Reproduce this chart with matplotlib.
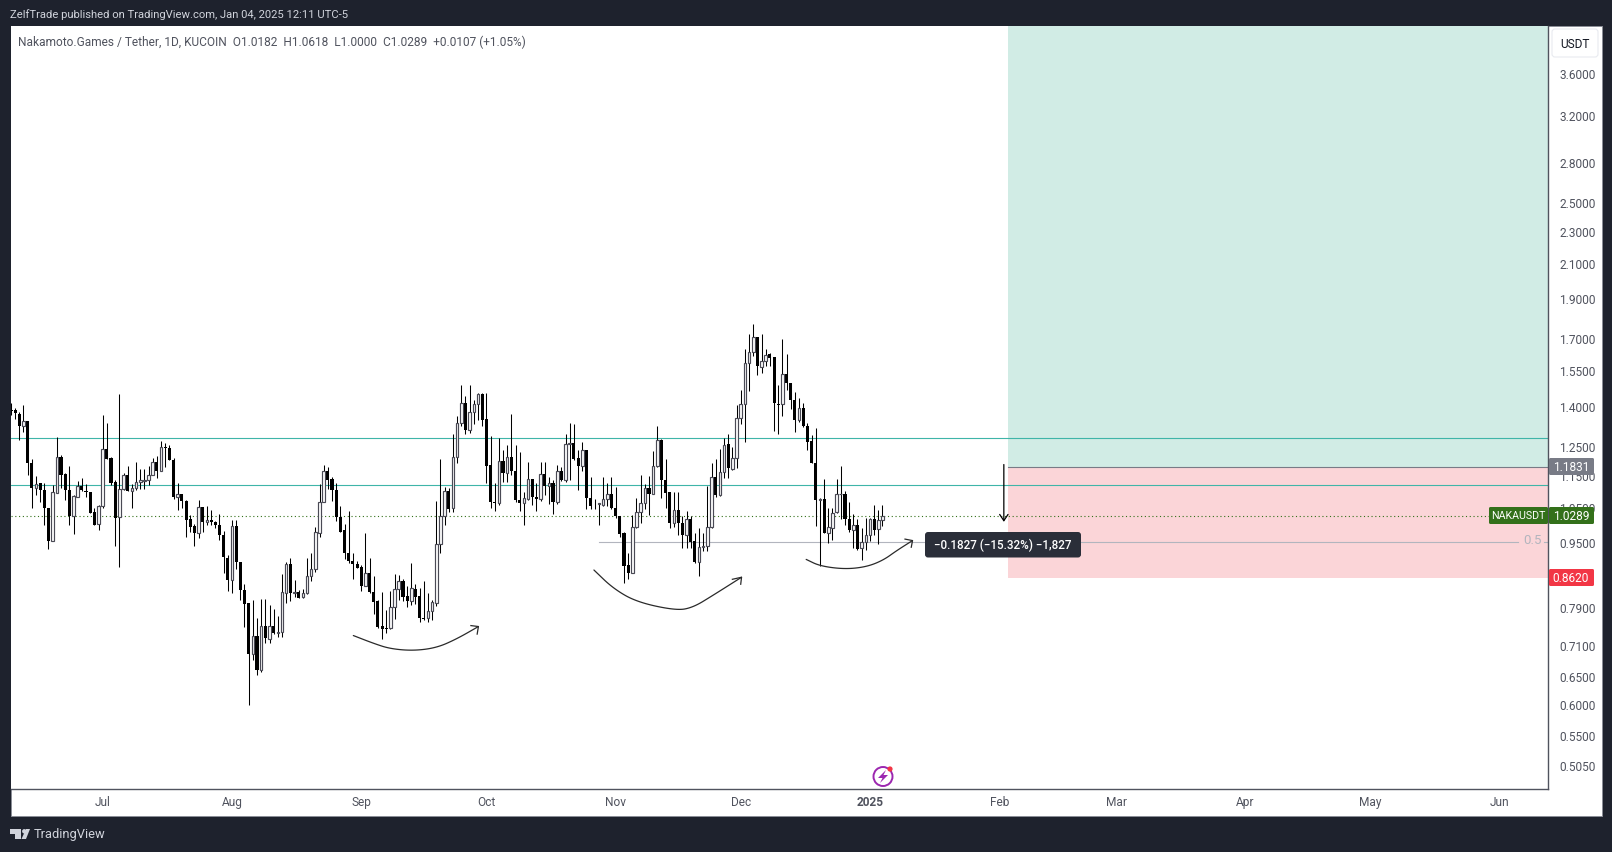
#!/usr/bin/env python3
"""NAKA/USDT daily candles with a short position drawing, TradingView style."""

import numpy as np
import matplotlib
matplotlib.use('Agg')
import matplotlib.pyplot as plt
from matplotlib.patches import Rectangle, FancyBboxPatch, Circle, Polygon
from matplotlib.transforms import Affine2D, ScaledTranslation

W, H = 1612, 853

plt.rcParams['font.family'] = ['Roboto', 'DejaVu Sans']

# days counted from Jul 1 2024
first_day = -22

opens = [
    1.393, 1.392, 1.377, 1.328, 1.349, 1.197, 1.115, 1.131, 1.108, 1.054,
    .960, 1.100, 1.217, 1.161, 1.108, 1.029, 1.088, 1.122, 1.106, 1.102,
    1.041, 1.005, 1.059, 1.245, 1.215, 1.134, 1.026, 1.111, 1.156, 1.104,
    1.115, 1.133, 1.138, 1.139, 1.156, 1.200, 1.169, 1.254, 1.250, 1.207,
    1.085, 1.095, 1.074, 1.020, 1.001, .981, 1.056, 1.013, 1.017, 1.013,
    1.003, .975, .914, .859, 1.000, .903, .835, .803, .696, .733,
    .665, .754, .726, .754, .739, .740, .828, .898, .827, .829,
    .818, .826, .868, .885, .982, 1.071, 1.170, 1.144, 1.108, 1.026,
    .988, .926, .905, .897, .890, .844, .875, .830, .808, .753,
    .749, .749, .794, .836, .857, .821, .809, .837, .819, .771,
    .771, .787, .805, .950, 1.029, 1.106, 1.052, 1.216, 1.341, 1.419,
    1.313, 1.384, 1.416, 1.454, 1.357, 1.189, 1.071, 1.068, 1.204, 1.162,
    1.217, 1.170, 1.077, 1.067, 1.081, 1.143, 1.087, 1.079, 1.160, 1.122,
    1.130, 1.070, 1.170, 1.139, 1.264, 1.267, 1.213, 1.185, 1.242, 1.083,
    1.066, 1.064, 1.061, 1.080, 1.095, 1.053, 1.029, .980, .895, .876,
    .997, 1.040, 1.068, 1.114, 1.097, 1.185, 1.279, 1.140, 1.101, 1.010,
    1.047, 1.009, .976, 1.020, .958, .904, .942, .944, .997, 1.150,
    1.093, 1.165, 1.263, 1.177, 1.214, 1.360, 1.415, 1.590, 1.641, 1.713,
    1.573, 1.600, 1.629, 1.615, 1.416, 1.415, 1.541, 1.503, 1.433, 1.352,
    1.399, 1.329, 1.273, 1.196, 1.076, 1.080, .982, .996, 1.040, 1.095,
    1.097, 1.020, .989, 1.003, .939, .956, .974, 1.020, .991, 1.0182,
]
highs = [
    1.420, 1.399, 1.384, 1.412, 1.349, 1.210, 1.154, 1.131, 1.131, 1.054,
    1.125, 1.289, 1.224, 1.163, 1.187, 1.092, 1.137, 1.147, 1.127, 1.102,
    1.053, 1.062, 1.372, 1.341, 1.217, 1.140, 1.457, 1.163, 1.187, 1.127,
    1.200, 1.176, 1.176, 1.185, 1.215, 1.221, 1.274, 1.266, 1.259, 1.214,
    1.131, 1.095, 1.076, 1.031, 1.007, 1.077, 1.056, 1.059, 1.046, 1.014,
    1.035, .986, .921, 1.017, 1.017, .903, .848, .803, .812, .771,
    .814, .814, .800, .790, .775, .873, .903, .913, .859, .834,
    .837, .913, .926, .997, 1.127, 1.190, 1.182, 1.150, 1.130, 1.060,
    1.006, 1.044, .926, .905, .895, .980, .913, .867, .811, .829,
    .788, .831, .872, .870, .861, .843, .900, .849, .838, .857,
    .826, .811, 1.075, 1.210, 1.117, 1.114, 1.301, 1.369, 1.492, 1.449,
    1.492, 1.433, 1.458, 1.458, 1.461, 1.293, 1.130, 1.283, 1.243, 1.258,
    1.376, 1.258, 1.235, 1.102, 1.200, 1.143, 1.130, 1.200, 1.200, 1.150,
    1.141, 1.190, 1.183, 1.299, 1.341, 1.337, 1.243, 1.272, 1.242, 1.150,
    1.081, 1.069, 1.150, 1.130, 1.150, 1.118, 1.030, .983, .926, 1.032,
    1.083, 1.156, 1.128, 1.153, 1.239, 1.331, 1.281, 1.210, 1.101, 1.101,
    1.101, 1.028, 1.043, 1.028, .980, .994, .980, 1.122, 1.196, 1.210,
    1.245, 1.283, 1.299, 1.251, 1.409, 1.474, 1.656, 1.724, 1.774, 1.713,
    1.724, 1.655, 1.637, 1.616, 1.492, 1.703, 1.629, 1.503, 1.464, 1.441,
    1.419, 1.341, 1.296, 1.322, 1.083, 1.144, 1.054, 1.053, 1.144, 1.187,
    1.106, 1.071, 1.034, 1.020, .994, 1.023, 1.023, 1.061, 1.048, 1.0618,
]
lows = [
    1.371, 1.357, 1.277, 1.306, 1.155, 1.052, 1.094, 1.072, 1.002, .936,
    .958, 1.099, 1.116, 1.076, 1.002, .979, 1.085, 1.104, 1.085, 1.037,
    1.002, .990, 1.052, 1.212, 1.123, .944, .891, 1.109, 1.104, 1.052,
    1.107, 1.113, 1.113, 1.123, 1.156, 1.146, 1.169, 1.182, 1.206, 1.079,
    1.046, 1.052, .971, .985, .944, .968, .985, 1.002, 1.002, .996,
    .962, .876, .832, .828, .885, .812, .751, .602, .684, .655,
    .660, .717, .718, .736, .731, .731, .805, .809, .818, .815,
    .816, .824, .856, .879, .971, 1.070, 1.111, 1.073, 1.016, .984,
    .912, .902, .861, .888, .833, .843, .827, .779, .748, .726,
    .738, .747, .769, .812, .808, .795, .799, .801, .762, .766,
    .762, .766, .797, .927, 1.004, 1.040, 1.042, 1.195, 1.330, 1.301,
    1.303, 1.337, 1.354, 1.329, 1.130, 1.052, 1.043, 1.063, 1.135, 1.135,
    1.157, 1.070, 1.043, 1.002, 1.078, 1.063, 1.043, 1.073, 1.093, 1.065,
    1.036, 1.065, 1.136, 1.135, 1.141, 1.208, 1.109, 1.171, 1.050, 1.050,
    1.051, 1.004, 1.058, 1.060, 1.050, 1.023, .971, .850, .861, .875,
    .995, 1.010, 1.049, 1.033, 1.095, 1.183, 1.082, 1.054, .996, .999,
    .974, .941, .941, .941, .900, .867, .933, .933, .995, 1.085,
    1.091, 1.147, 1.147, 1.174, 1.180, 1.335, 1.269, 1.467, 1.621, 1.535,
    1.546, 1.575, 1.575, 1.312, 1.300, 1.367, 1.474, 1.397, 1.305, 1.344,
    1.326, 1.243, 1.196, 1.001, .893, .980, .953, .962, 1.038, 1.020,
    1.004, .984, .939, .935, .908, .935, .958, .975, .951, 1.0000,
]
closes = [
    1.386, 1.378, 1.328, 1.349, 1.196, 1.114, 1.128, 1.107, 1.052, .960,
    1.102, 1.217, 1.158, 1.107, 1.030, 1.089, 1.122, 1.107, 1.103, 1.037,
    1.002, 1.059, 1.245, 1.212, 1.131, 1.025, 1.111, 1.156, 1.104, 1.115,
    1.134, 1.140, 1.141, 1.156, 1.200, 1.169, 1.252, 1.250, 1.206, 1.085,
    1.095, 1.073, 1.019, .999, .981, 1.056, 1.013, 1.017, 1.013, 1.002,
    .974, .915, .859, 1.000, .904, .834, .802, .696, .733, .664,
    .754, .727, .754, .738, .741, .829, .898, .828, .829, .816,
    .826, .868, .885, .983, 1.071, 1.170, 1.141, 1.107, 1.026, .985,
    .928, .905, .897, .889, .844, .875, .829, .807, .752, .746,
    .746, .794, .836, .856, .818, .809, .838, .818, .770, .769,
    .787, .806, .951, 1.029, 1.106, 1.051, 1.217, 1.342, 1.419, 1.313,
    1.384, 1.416, 1.455, 1.354, 1.188, 1.070, 1.069, 1.204, 1.162, 1.217,
    1.169, 1.076, 1.067, 1.083, 1.143, 1.085, 1.079, 1.160, 1.122, 1.130,
    1.070, 1.170, 1.139, 1.264, 1.268, 1.210, 1.185, 1.242, 1.082, 1.060,
    1.064, 1.067, 1.080, 1.095, 1.052, 1.029, .979, .894, .876, .997,
    1.040, 1.068, 1.114, 1.097, 1.186, 1.278, 1.139, 1.100, 1.010, 1.047,
    1.008, .976, 1.020, .957, .904, .942, .945, .997, 1.150, 1.093,
    1.166, 1.259, 1.179, 1.214, 1.360, 1.415, 1.591, 1.641, 1.713, 1.575,
    1.600, 1.627, 1.612, 1.418, 1.413, 1.541, 1.501, 1.433, 1.352, 1.399,
    1.329, 1.272, 1.196, 1.076, 1.080, .982, .997, 1.038, 1.095, 1.097,
    1.020, .989, 1.003, .937, .956, .975, 1.020, .989, 1.018, 1.0289,
]

month_days = [0, 31, 62, 92, 123, 153, 184, 215, 243, 274, 304, 335]
month_labels = ['Jul', 'Aug', 'Sep', 'Oct', 'Nov', 'Dec', '2025', 'Feb', 'Mar', 'Apr', 'May', 'Jun']
price_ticks = [3.6, 3.2, 2.8, 2.5, 2.3, 2.1, 1.9, 1.7, 1.55, 1.4, 1.25, 1.15, 1.05,
               0.95, 0.79, 0.71, 0.65, 0.6, 0.55, 0.505]

level_upper = 1.285
level_lower = 1.124
last_price = 1.0289
mid_level = 0.955
mid_start_day = 119
entry_price = 1.1831
stop_price = 0.8620
target_price = 4.5
box_start_day = 217.1
drop_day = 216.1
drop_top = 1.1915
drop_bottom = 1.0125

# hand drawn swoosh arrows (day, price)
swoosh1_days = [60.1, 64.9, 68.9, 74.5, 80.1, 84.9, 90.1]
swoosh1_prices = [.733, .717, .706, .702, .708, .726, .752]
swoosh1_head_days = [88.3, 90.1, 89.8]
swoosh1_head_prices = [.754, .752, .736]
swoosh2_days = [117.8, 122.4, 128.1, 137.6, 141.6, 146.4, 153.2]
swoosh2_prices = [.883, .838, .806, .787, .794, .822, .865]
swoosh2_head_days = [151.0, 153.2, 153.0]
swoosh2_head_prices = [.860, .865, .848]
swoosh3_days = [168.7, 172.0, 178.0, 183.2, 187.2, 190.4, 194.2]
swoosh3_prices = [.910, .893, .885, .891, .908, .933, .960]
swoosh3_head_days = [192.4, 194.2, 193.9]
swoosh3_head_prices = [.964, .960, .942]

# colours
BG = '#1e222d'
AXIS = '#50535e'
UP_EDGE = '#4a4a55'
TEXT_DARK = '#50535e'
TEAL = '#3fb5a8'
GREEN = '#33701a'

fig = plt.figure(figsize=(W / 100, H / 100), dpi=100, facecolor=BG)

# pixel space with the origin at the top left, only for the page furniture
px = Affine2D().scale(1 / W, -1 / H).translate(0, 1) + fig.transFigure

fig.patches.append(Rectangle((10.5, 27), 1591.5, 790.5, transform=px, facecolor='white',
                             edgecolor='#8a8d96', linewidth=0.7, zorder=-1))

left, right, top, bottom = 10.5, 1548, 27, 790
ax = fig.add_axes([left / W, 1 - bottom / H, (right - left) / W, (bottom - top) / H])
ax.set_yscale('log')
ax.set_xlim((left - 102.7) / 4.17, (right - 102.7) / 4.17)
ax.set_ylim(0.4740, 4.141)
ax.set_facecolor('white')
ax.minorticks_off()

for side in ['top', 'left']:
    ax.spines[side].set_visible(False)
for side in ['right', 'bottom']:
    ax.spines[side].set_color(AXIS)
    ax.spines[side].set_linewidth(1.0)

ax.yaxis.tick_right()
ax.set_yticks(price_ticks)
ax.set_yticklabels(['%.4f' % p for p in price_ticks])
ax.yaxis.set_minor_locator(matplotlib.ticker.NullLocator())
ax.tick_params(axis='y', length=0, pad=8, labelsize=8.6, labelcolor=TEXT_DARK)
# the price labels sit a touch high against their levels on the original
for lab in ax.get_yticklabels():
    lab.set_transform(lab.get_transform() + ScaledTranslation(0, 1.8 / 100, fig.dpi_scale_trans))
ax.set_xticks(month_days)
ax.set_xticklabels(month_labels)
ax.tick_params(axis='x', length=0, pad=4, labelsize=8.6, labelcolor=TEXT_DARK)
ax.get_xticklabels()[6].set_fontweight('bold')

# position box
ax.add_patch(Rectangle((box_start_day, entry_price), 400, target_price - entry_price,
                       facecolor='#d1ece5', edgecolor='none', zorder=1))
ax.add_patch(Rectangle((box_start_day, stop_price), 400, entry_price - stop_price,
                       facecolor='#fbd5d8', edgecolor='none', zorder=1))
ax.plot([box_start_day, 400], [entry_price, entry_price], color='#787b86', lw=0.8, zorder=1.5)

# levels
ax.axhline(level_upper, color=TEAL, lw=0.8, zorder=2)
ax.axhline(level_lower, color=TEAL, lw=0.8, zorder=2)
ax.plot([ax.get_xlim()[0], (1489 - 102.7) / 4.17], [last_price, last_price], color=GREEN,
        lw=0.8, ls=(0, (1, 2.4)), zorder=2)
ax.plot([mid_start_day, (1518 - 102.7) / 4.17], [mid_level, mid_level], color='#b2b5be', lw=0.8, zorder=2)
ax.plot([(1544 - 102.7) / 4.17, 400], [mid_level, mid_level], color='#b2b5be', lw=0.8, zorder=2)
ax.text(1532, 541, '0.5', transform=px, color='#b2b5be', fontsize=9.5, ha='center', va='center')

# candles
days = first_day + np.arange(len(opens))
opens = np.array(opens)
closes = np.array(closes)
up = closes >= opens
ax.vlines(days, lows, highs, color='black', lw=0.75, zorder=3)
ax.bar(days[~up], (opens - closes)[~up], bottom=closes[~up], width=0.75, color='black', zorder=4)
ax.bar(days[up], np.maximum((closes - opens)[up], 0.001), bottom=opens[up], width=0.62,
       facecolor='white', edgecolor=UP_EDGE, linewidth=0.85, zorder=4)


def draw_swoosh(sw_days, sw_prices, head_days, head_prices):
    # corner cutting on the picked points so the stroke looks drawn, not polygonal
    pts = np.column_stack([sw_days, np.log(sw_prices)])
    for _ in range(4):
        q = 0.75 * pts[:-1] + 0.25 * pts[1:]
        r = 0.25 * pts[:-1] + 0.75 * pts[1:]
        mid = np.empty((2 * len(q), 2))
        mid[0::2] = q
        mid[1::2] = r
        pts = np.vstack([pts[:1], mid, pts[-1:]])
    ax.plot(pts[:, 0], np.exp(pts[:, 1]), color='#2a2a2a', lw=0.9, zorder=5, solid_capstyle='round')
    ax.plot(head_days, head_prices, color='#2a2a2a', lw=0.9, zorder=5)


draw_swoosh(swoosh1_days, swoosh1_prices, swoosh1_head_days, swoosh1_head_prices)
draw_swoosh(swoosh2_days, swoosh2_prices, swoosh2_head_days, swoosh2_head_prices)
draw_swoosh(swoosh3_days, swoosh3_prices, swoosh3_head_days, swoosh3_head_prices)

# measure arrow
ax.annotate('', xy=(drop_day, drop_bottom), xytext=(drop_day, drop_top), zorder=6,
            arrowprops=dict(arrowstyle='->,head_length=0.45,head_width=0.3', color='black', lw=0.9,
                            shrinkA=0, shrinkB=0))


def tag(x0, y0, x1, y1, colour, label, cx, size=8.6):
    ax.add_patch(FancyBboxPatch((x0 + 1, y0 + 1), x1 - x0 - 2, y1 - y0 - 2, boxstyle='round,pad=1,rounding_size=1.5',
                                transform=px, facecolor=colour, edgecolor='none',
                                clip_on=False, zorder=10))
    ax.text(cx, (y0 + y1) / 2, label, transform=px, color='white', fontsize=size, ha='center', va='center',
            zorder=11, clip_on=False)


tag(1549, 459, 1594, 476, '#787b86', '%.4f' % entry_price, 1571)
tag(1489, 508, 1548, 525, GREEN, 'NAKAUSDT', 1518, size=7.7)
tag(1549, 508, 1594, 525, GREEN, '%.4f' % last_price, 1571)
tag(1549, 570, 1594, 587, '#f23645', '%.4f' % stop_price, 1571)

# tooltip
ax.add_patch(FancyBboxPatch((928, 536), 150, 19.5, boxstyle='round,pad=3,rounding_size=3', transform=px,
                            facecolor='#2a2e39', edgecolor='none', zorder=10, clip_on=False))
ax.text(1003, 545.5, '\u22120.1827 (\u221215.32%) \u22121,827', transform=px, color='white', fontsize=8.4,
        fontweight='medium', ha='center', va='center', zorder=11)

# currency button
ax.add_patch(FancyBboxPatch((1552, 30), 46, 28, boxstyle='round,pad=0,rounding_size=3', transform=px,
                            facecolor='white', edgecolor='#e8eaf0', linewidth=0.8, zorder=10, clip_on=False))
ax.text(1575, 44.5, 'USDT', transform=px, color='#131722', fontsize=8.6, ha='center', va='center', zorder=11,
        clip_on=False)

# lightning badge
ax.add_patch(Circle((883, 777.5), 9.5, transform=px, facecolor='white', edgecolor='#9c27b0', lw=1.4, zorder=10))
ax.add_patch(Polygon([(886, 771), (878, 779), (882.5, 779), (880, 784), (888, 776), (883.5, 776)], transform=px,
                     facecolor='#9c27b0', edgecolor='none', zorder=11))
ax.add_patch(Circle((890, 770), 2.6, transform=px, facecolor='#f23645', edgecolor='none', zorder=12))

# header, legend, footer
fig.text(10, 15, 'ZelfTrade published on TradingView.com, Jan 04, 2025 12:11 UTC-5', transform=px,
         color='#d1d4dc', fontsize=8.1, va='center')
fig.text(17.5, 42, 'Nakamoto.Games / Tether, 1D, KUCOIN  O1.0182  H1.0618  L1.0000  C1.0289  +0.0107 (+1.05%)',
         transform=px, color=TEXT_DARK, fontsize=8.6, va='center', zorder=20)
fig.patches.append(Polygon([(10, 830), (21, 830), (21, 840), (15, 840), (15, 835), (10, 835)], transform=px,
                           facecolor='#d1d4dc', edgecolor='none'))
fig.patches.append(Circle((24.3, 832.3), 2.2, transform=px, facecolor='#d1d4dc', edgecolor='none'))
fig.patches.append(Polygon([(26, 830), (30, 830), (26, 840), (21.5, 840)], transform=px,
                           facecolor='#d1d4dc', edgecolor='none'))
fig.text(33.5, 835, 'TradingView', transform=px, color='#d1d4dc', fontsize=9.3, va='center')

fig.savefig('out.png', dpi=100, facecolor=BG)
